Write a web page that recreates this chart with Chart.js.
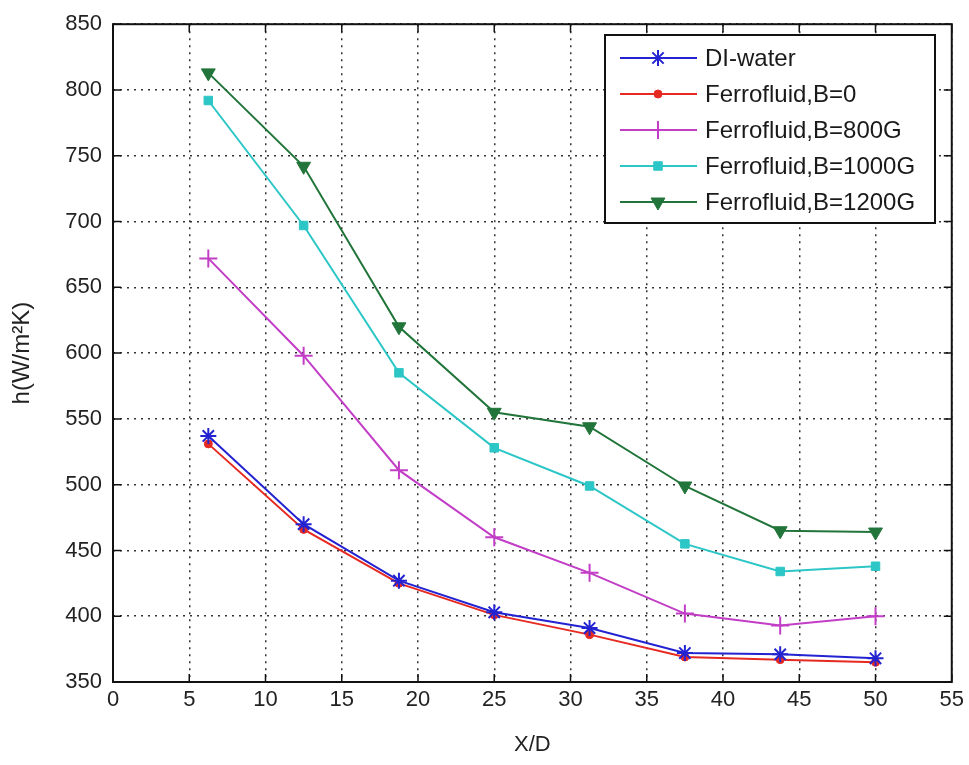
<!DOCTYPE html>
<html>
<head>
<meta charset="utf-8">
<script src="https://cdn.jsdelivr.net/npm/chart.js@4/dist/chart.umd.min.js"></script>
<style>
  html, body { margin: 0; padding: 0; background: #fff; }
  #wrap { width: 969px; height: 765px; }
</style>
</head>
<body>
<div id="wrap"><canvas id="hChart" width="969" height="765"></canvas></div>
<script>
// X/D positions and h values
const xd = [6.25, 12.5, 18.75, 25, 31.25, 37.5, 43.75, 50];
const diWater = [537, 470, 427, 403, 391, 372, 371, 368];
const ferroB0 = [531, 466, 425, 401, 386, 369, 367, 365];
const ferroB800 = [672, 598, 511, 460, 433, 402, 393, 400];
const ferroB1000 = [792, 697, 585, 528, 499, 455, 434, 438];
const ferroB1200 = [813, 742, 620, 555, 544, 499, 465, 464];

const xTicks = [0, 5, 10, 15, 20, 25, 30, 35, 40, 45, 50, 55];
const yTicks = [350, 400, 450, 500, 550, 600, 650, 700, 750, 800, 850];

const pts = vals => vals.map((v, i) => ({ x: xd[i], y: v }));

const series = [
    { label: 'DI-water', values: diWater, color: '#2323d2', style: 'star', radius: 8, rotation: 0, bw: 2 },
    { label: 'Ferrofluid,B=0', values: ferroB0, color: '#e62a22', style: 'circle', radius: 4, rotation: 0, bw: 1 },
    { label: 'Ferrofluid,B=800G', values: ferroB800, color: '#c23ec6', style: 'cross', radius: 9, rotation: 0, bw: 2 },
    { label: 'Ferrofluid,B=1000G', values: ferroB1000, color: '#2cc6c6', style: 'rect', radius: 6, rotation: 0, bw: 1 },
    { label: 'Ferrofluid,B=1200G', values: ferroB1200, color: '#22753a', style: 'triangle', radius: 8, rotation: 180, bw: 1 }
];

const FONT = "'Liberation Sans', Arial, sans-serif";

// matlab style box, inward ticks and legend
const boxPlugin = {
    id: 'boxPlugin',
    afterDraw(chart) {
        const ctx = chart.ctx;
        const a = chart.chartArea;
        const xs = chart.scales.x, ys = chart.scales.y;
        ctx.save();
        ctx.strokeStyle = '#111';
        ctx.lineWidth = 1.5;
        const tl = 8;
        ctx.beginPath();
        xTicks.forEach(t => {
            const px = xs.getPixelForValue(t);
            ctx.moveTo(px, a.bottom); ctx.lineTo(px, a.bottom - tl);
            ctx.moveTo(px, a.top); ctx.lineTo(px, a.top + tl);
        });
        yTicks.forEach(t => {
            const py = ys.getPixelForValue(t);
            ctx.moveTo(a.left, py); ctx.lineTo(a.left + tl, py);
            ctx.moveTo(a.right, py); ctx.lineTo(a.right - tl, py);
        });
        ctx.stroke();
        ctx.lineWidth = 2;
        ctx.strokeRect(a.left, a.top, a.right - a.left, a.bottom - a.top);

        // legend box
        const lx = 605, ly = 35, lw = 330, lh = 188;
        ctx.fillStyle = '#fff';
        ctx.fillRect(lx, ly, lw, lh);
        ctx.strokeStyle = '#111';
        ctx.lineWidth = 2;
        ctx.strokeRect(lx, ly, lw, lh);
        const rows = [58, 94, 130, 166, 202];
        ctx.font = '24px ' + FONT;
        ctx.textBaseline = 'middle';
        series.forEach((s, i) => {
            const y = rows[i];
            ctx.strokeStyle = s.color;
            ctx.lineWidth = 2;
            ctx.beginPath();
            ctx.moveTo(620, y); ctx.lineTo(697, y);
            ctx.stroke();
            ctx.fillStyle = s.color;
            ctx.strokeStyle = s.color;
            ctx.lineWidth = s.bw;
            Chart.helpers.drawPoint(ctx, { pointStyle: s.style, radius: s.radius, rotation: s.rotation, borderWidth: s.bw }, 658, y);
            ctx.fillStyle = '#1a1a1a';
            ctx.fillText(s.label, 705, y + 1);
        });
        ctx.restore();
    }
};

new Chart(document.getElementById('hChart'), {
    type: 'line',
    data: {
        datasets: series.map(s => ({
            label: s.label,
            data: pts(s.values),
            borderColor: s.color,
            backgroundColor: s.color,
            borderWidth: 2,
            pointStyle: s.style,
            pointRadius: s.radius,
            pointRotation: s.rotation,
            pointBorderWidth: s.bw,
            pointBackgroundColor: s.color,
            pointBorderColor: s.color,
            tension: 0,
            fill: false
        }))
    },
    options: {
        responsive: false,
        animation: false,
        layout: { padding: { top: 23, right: 17, left: 0, bottom: 0 } },
        plugins: {
            legend: { display: false },
            tooltip: { enabled: false }
        },
        scales: {
            x: {
                type: 'linear',
                min: 0, max: 55,
                afterBuildTicks: sc => { sc.ticks = xTicks.map(v => ({ value: v })); },
                afterFit: sc => { sc.height = 83; },
                ticks: { color: '#222', font: { family: FONT, size: 22 }, padding: 5, maxRotation: 0 },
                grid: { color: '#333', lineWidth: 1.5, drawTicks: false },
                border: { display: false, dash: [2, 5] },
                title: { display: true, text: 'X/D', color: '#222', font: { family: FONT, size: 22 }, padding: { top: 0, bottom: 7 } }
            },
            y: {
                type: 'linear',
                min: 350, max: 850,
                afterBuildTicks: sc => { sc.ticks = yTicks.map(v => ({ value: v })); },
                afterFit: sc => { sc.width = 113; },
                ticks: { color: '#222', font: { family: FONT, size: 22 }, padding: 11 },
                grid: { color: '#333', lineWidth: 1.5, drawTicks: false },
                border: { display: false, dash: [2, 5] },
                title: { display: true, text: 'h(W/m²K)', color: '#222', font: { family: FONT, size: 24 }, padding: { top: 8, bottom: 0 } }
            }
        }
    },
    plugins: [boxPlugin]
});
</script>
</body>
</html>
